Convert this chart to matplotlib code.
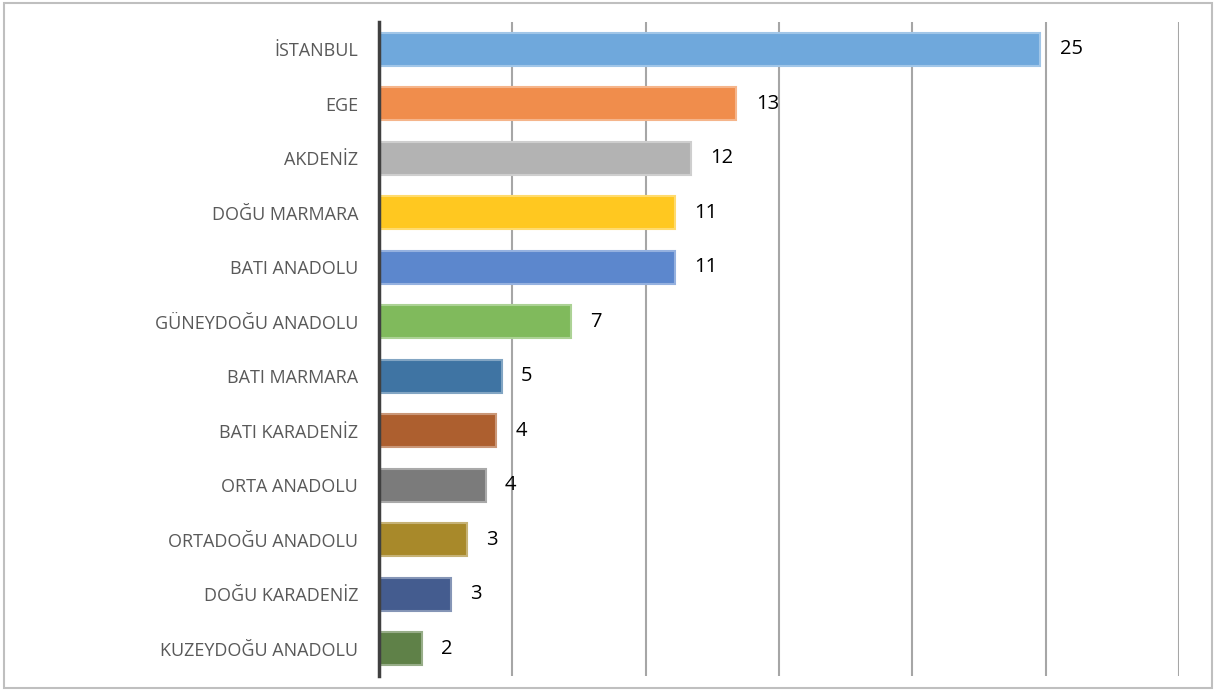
import matplotlib.pyplot as plt
from matplotlib.colors import to_rgb
from matplotlib.patches import Rectangle

# bölgeler ve değerler
regions = ['İSTANBUL', 'EGE', 'AKDENİZ', 'DOĞU MARMARA', 'BATI ANADOLU',
           'GÜNEYDOĞU ANADOLU', 'BATI MARMARA', 'BATI KARADENİZ',
           'ORTA ANADOLU', 'ORTADOĞU ANADOLU', 'DOĞU KARADENİZ',
           'KUZEYDOĞU ANADOLU']
values = [24.8, 13.4, 11.7, 11.1, 11.1, 7.2, 4.6, 4.4, 4.0, 3.3, 2.7, 1.6]
labels = ['25', '13', '12', '11', '11', '7', '5', '4', '4', '3', '3', '2']
colors = ['#6FA8DC', '#F08D4C', '#B3B3B3', '#FFC820', '#5C87CD', '#80BA5C',
          '#3F74A3', '#AD5F2F', '#7B7B7B', '#A8892A', '#445C8F', '#5F8148']


def lighter(c, f=0.35):
    r, g, b = to_rgb(c)
    return (r + (1 - r) * f, g + (1 - g) * f, b + (1 - b) * f)


fig = plt.figure(figsize=(12.15, 6.9), dpi=100)
ax = fig.add_axes([379 / 1215, 1 - 676 / 690, 800 / 1215, 654 / 690])

y = list(range(len(regions)))
ax.barh(y, values, height=0.6, color=colors,
        edgecolor=[lighter(c) for c in colors], linewidth=1.5, zorder=3)

for yi, v, lab in zip(y, values, labels):
    ax.annotate(lab, (v, yi), xytext=(14, 0), textcoords='offset points',
                ha='left', va='center', fontsize=14.5, family='Open Sans',
                color='black')

ax.set_xlim(0, 30)
ax.set_ylim(len(regions) - 0.5, -0.5)
ax.set_xticks([5, 10, 15, 20, 25, 30])
ax.grid(axis='x', color='#a6a6a6', linewidth=1.5, zorder=0)
ax.set_yticks(y)
ax.set_yticklabels(regions, fontsize=13, family='Open Sans', color='#595959')
ax.tick_params(axis='y', length=0, pad=15)
ax.tick_params(axis='x', length=0, labelbottom=False)
for s in ['top', 'right', 'bottom']:
    ax.spines[s].set_visible(False)
ax.spines['left'].set_color('#404040')
ax.spines['left'].set_linewidth(2.5)
ax.spines['left'].set_zorder(4)

# çerçeve
fig.patches.append(Rectangle((4 / 1215, 2 / 690), 1208 / 1215, 685 / 690,
                             transform=fig.transFigure, fill=False,
                             edgecolor='#bfbfbf', linewidth=1.5))

fig.savefig('out.png', dpi=100)
